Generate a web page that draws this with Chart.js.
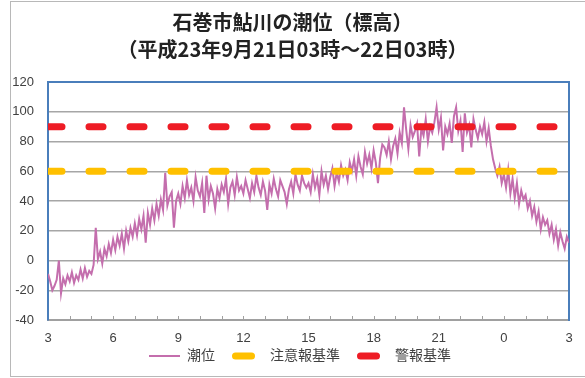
<!DOCTYPE html>
<html>
<head>
<meta charset="utf-8">
<script src="https://cdn.jsdelivr.net/npm/chart.js@4/dist/chart.umd.min.js"></script>
<style>
  html, body { margin: 0; padding: 0; background: #fff; }
  #wrap { width: 585px; height: 378px; }
</style>
</head>
<body>
<div id="wrap"><canvas id="c" width="585" height="378"></canvas></div>
<script>
// 石巻市鮎川の潮位 — 読み取り値（3時起点、0.1時間ごと）
const xTickLabels = ['3', '6', '9', '12', '15', '18', '21', '0', '3'];
const tideLevel = [
  -9, -14, -20, -17, -13, 0, -22, -12, -16, -10,
  -14, -8, -15, -10, -13, -6, -12, -5, -11, -7,
  -9, -3, 22, 1, 6, -2, 8, 3, 11, 5,
  14, 7, 16, 10, 18, 8, 20, 13, 22, 16,
  25, 17, 28, 21, 30, 12, 32, 24, 35, 27,
  38, 30, 41, 34, 59, 37, 43, 46, 22, 40,
  45, 38, 50, 42, 54, 44, 49, 40, 56, 47,
  43, 52, 32, 57, 41, 50, 45, 35, 48, 42,
  51, 46, 55, 38, 49, 53, 44, 56, 47, 50,
  45, 54, 48, 42, 52, 46, 57, 49, 44, 53,
  47, 34, 51, 45, 55, 48, 43, 54, 50, 46,
  38, 48, 53, 45, 58, 51, 47, 57, 52, 49,
  52, 46, 58, 49, 55, 44, 60, 51, 57, 48,
  56, 62, 50, 59, 53, 64, 57, 61, 54, 66,
  60, 68, 57, 70, 63, 58, 73, 65, 71, 62,
  74, 66, 52, 69, 78, 76, 71, 80, 68, 77,
  82, 72, 86, 79, 103, 88, 75, 91, 83, 87,
  92, 70, 89, 84, 95, 80, 90, 86, 93, 103,
  88, 96, 74, 90, 85, 92, 79, 97, 103, 87,
  94, 73, 99, 86, 91, 76, 95, 88, 82, 90,
  85, 93, 80, 89, 77, 68, 62, 57, 63, 52,
  58, 49, 61, 45, 55, 42, 52, 38, 47, 41,
  44, 35, 40, 30, 36, 26, 33, 21, 29, 24,
  27, 18, 24, 14, 21, 10, 19, 13, 8, 16,
  12
];
const sampleStep = 0.1; // 時間
const cautionLevel = [60, 60];   // 注意報基準
const warningLevel = [90, 90];   // 警報基準
const lineHours = [0, 24];

const tidePoints = tideLevel.map((v, i) => ({ x: i * sampleStep, y: v }));
const cautionPoints = lineHours.map((h, i) => ({ x: h, y: cautionLevel[i] }));
const warningPoints = lineHours.map((h, i) => ({ x: h, y: warningLevel[i] }));

const fontJP = "'Liberation Sans', 'Noto Sans CJK JP', sans-serif";

// 外枠、上端の青線、下軸の目盛り
const decor = {
  id: 'decor',
  beforeDraw(chart) {
    const ctx = chart.ctx;
    ctx.save();
    ctx.strokeStyle = '#b8b8b8';
    ctx.lineWidth = 1;
    ctx.strokeRect(10.5, 1.5, 600, 375);
    ctx.restore();
  },
  afterDraw(chart) {
    const ctx = chart.ctx;
    const a = chart.chartArea;
    const xs = chart.scales.x;
    ctx.save();
    ctx.strokeStyle = '#4a7ebb';
    ctx.lineWidth = 2;
    ctx.beginPath();
    ctx.moveTo(a.left - 1, a.top);
    ctx.lineTo(a.right + 1, a.top);
    ctx.stroke();
    ctx.strokeStyle = '#a0a0a0';
    ctx.lineWidth = 1;
    ctx.beginPath();
    for (let h = 1; h < 24; h++) {
      const px = Math.round(xs.getPixelForValue(h)) + 0.5;
      ctx.moveTo(px, a.bottom);
      ctx.lineTo(px, a.bottom - 4);
    }
    ctx.stroke();
    ctx.restore();
  }
};

// 凡例マーカーの見え方（Excel風）
function legendLabels(chart) {
  const items = Chart.defaults.plugins.legend.labels.generateLabels(chart);
  items.sort((a, b) => a.datasetIndex - b.datasetIndex);
  items.forEach((it) => {
    if (it.datasetIndex === 0) {
      it.lineDash = [31, 200];
      it.lineDashOffset = -15;
      it.lineCap = 'butt';
    } else {
      it.lineDash = [16, 200];
      it.lineDashOffset = -18.5;
      it.lineCap = 'round';
    }
  });
  return items;
}

new Chart(document.getElementById('c'), {
  type: 'line',
  data: {
    datasets: [
      {
        label: '潮位',
        data: tidePoints,
        borderColor: '#c46ead',
        backgroundColor: '#c46ead',
        borderWidth: 2,
        pointRadius: 0,
        order: 1
      },
      {
        label: '注意報基準',
        data: cautionPoints,
        borderColor: '#ffc000',
        backgroundColor: '#ffc000',
        borderWidth: 7,
        borderDash: [14, 27],
        borderCapStyle: 'round',
        pointRadius: 0,
        order: 0
      },
      {
        label: '警報基準',
        data: warningPoints,
        borderColor: '#ee1c25',
        backgroundColor: '#ee1c25',
        borderWidth: 7,
        borderDash: [14, 27],
        borderCapStyle: 'round',
        pointRadius: 0,
        order: 0
      }
    ]
  },
  options: {
    responsive: false,
    animation: false,
    layout: { padding: { left: 0, right: 0, top: 0, bottom: 5 } },
    plugins: {
      title: {
        display: true,
        text: ['石巻市鮎川の潮位（標高）', '（平成23年9月21日03時～22日03時）'],
        color: '#222',
        font: { family: "'Noto Sans CJK JP', sans-serif", size: 20, weight: 'bold', lineHeight: 1.35 },
        padding: { top: 8.5, bottom: 19.5 }
      },
      legend: {
        position: 'bottom',
        labels: {
          usePointStyle: true,
          pointStyle: 'line',
          pointStyleWidth: 46,
          padding: 2,
          color: '#404040',
          font: { family: fontJP, size: 14 },
          generateLabels: legendLabels
        }
      },
      tooltip: { enabled: false }
    },
    scales: {
      x: {
        type: 'linear',
        min: 0,
        max: 24,
        afterFit: (s) => { s.height = 27; },
        grid: { display: false },
        border: { color: '#a0a0a0', width: 2 },
        ticks: {
          stepSize: 3,
          padding: 3,
          maxRotation: 0,
          color: '#404040',
          font: { family: fontJP, size: 13 },
          callback: (v) => xTickLabels[v / 3]
        }
      },
      y: {
        min: -40,
        max: 120,
        afterFit: (s) => { s.width = 48; },
        grid: { color: '#a6a6a6', lineWidth: 1.5, drawTicks: false },
        border: { color: '#4a7ebb', width: 2 },
        ticks: {
          stepSize: 20,
          padding: 14,
          color: '#404040',
          font: { family: fontJP, size: 13 }
        }
      },
      y2: {
        position: 'right',
        min: -40,
        max: 120,
        afterFit: (s) => { s.width = 16; },
        grid: { display: false, drawTicks: false },
        border: { color: '#4a7ebb', width: 2 },
        ticks: { display: false }
      }
    }
  },
  plugins: [decor]
});
</script>
</body>
</html>
